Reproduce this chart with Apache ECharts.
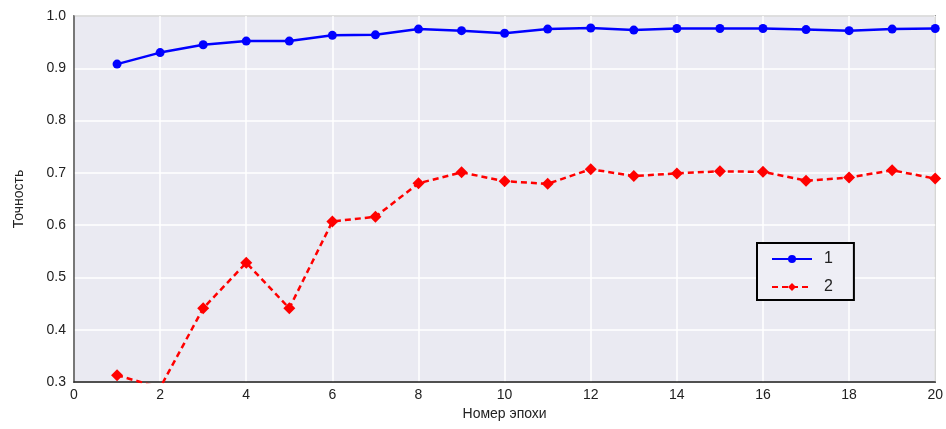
<!DOCTYPE html>
<html>
<head>
<meta charset="utf-8">
<script src="https://cdn.jsdelivr.net/npm/echarts@6/dist/echarts.min.js"></script>
<style>
html,body{margin:0;padding:0;background:#fff;}
#chart{width:946px;height:429px;}
</style>
</head>
<body>
<div id="chart"></div>
<script>
var epochs = [1,2,3,4,5,6,7,8,9,10,11,12,13,14,15,16,17,18,19,20];
var series1 = [0.908,0.930,0.945,0.952,0.952,0.963,0.964,0.975,0.972,0.967,0.975,0.977,0.973,0.976,0.976,0.976,0.974,0.972,0.975,0.976];
var series2 = [0.313,0.289,0.441,0.528,0.441,0.607,0.616,0.680,0.701,0.684,0.679,0.707,0.694,0.699,0.703,0.702,0.685,0.691,0.705,0.689];
var seriesNames = ['1','2'];
var xTitle = 'Номер эпохи';
var yTitle = 'Точность';

function pairs(xs, ys){ return xs.map(function(x,i){ return [x, ys[i]]; }); }

var chart = echarts.init(document.getElementById('chart'), null, {renderer:'canvas'});
var font = 'Liberation Sans, Arial, sans-serif';
chart.setOption({
  animation: false,
  backgroundColor: '#ffffff',
  grid: {
    left: 74, right: 10, top: 16, bottom: 47,
    show: true, backgroundColor: '#EAEAF2', borderColor: '#555', borderWidth: 1.5
  },
  xAxis: {
    type: 'value', min: 0, max: 20, interval: 2,
    name: xTitle, nameLocation: 'middle', nameGap: 25,
    nameTextStyle: {fontFamily: font, fontSize: 14, color: '#222'},
    axisLine: {show: true, onZero: false, lineStyle: {color: '#222', width: 1.5}},
    axisTick: {show: false},
    axisLabel: {fontFamily: font, fontSize: 14, color: '#222', margin: 6},
    splitLine: {show: true, lineStyle: {color: '#ffffff', width: 1.5}}
  },
  yAxis: {
    type: 'value', min: 0.3, max: 1.0, interval: 0.1,
    name: yTitle, nameLocation: 'middle', nameGap: 48, nameRotate: 90,
    nameTextStyle: {fontFamily: font, fontSize: 14, color: '#222'},
    axisLine: {show: true, lineStyle: {color: '#555', width: 1.5}},
    axisTick: {show: false},
    axisLabel: {fontFamily: font, fontSize: 14, color: '#222', margin: 8,
      formatter: function(v){ return v.toFixed(1); }},
    splitLine: {show: true, lineStyle: {color: '#ffffff', width: 1.5}}
  },
  legend: {
    orient: 'vertical', left: 757, top: 243,
    padding: [8, 21, 5, 14], itemGap: 12,
    itemWidth: 40, itemHeight: 10,
    borderColor: '#000', borderWidth: 2, backgroundColor: '#EEEEF5',
    textStyle: {fontFamily: font, fontSize: 16, lineHeight: 14, color: '#222', padding: [0, 0, 0, 7]},
    data: seriesNames
  },
  series: [
    {
      name: seriesNames[0], type: 'line', data: pairs(epochs, series1),
      symbol: 'circle', symbolSize: 9,
      itemStyle: {color: '#0000FF'},
      lineStyle: {color: '#0000FF', width: 2.5, type: 'solid'},
      clip: true
    },
    {
      name: seriesNames[1], type: 'line', data: pairs(epochs, series2),
      symbol: 'diamond', symbolSize: 12,
      itemStyle: {color: '#FF0000'},
      lineStyle: {color: '#FF0000', width: 2.5, type: [6, 4]},
      clip: true
    }
  ]
});
</script>
</body>
</html>
